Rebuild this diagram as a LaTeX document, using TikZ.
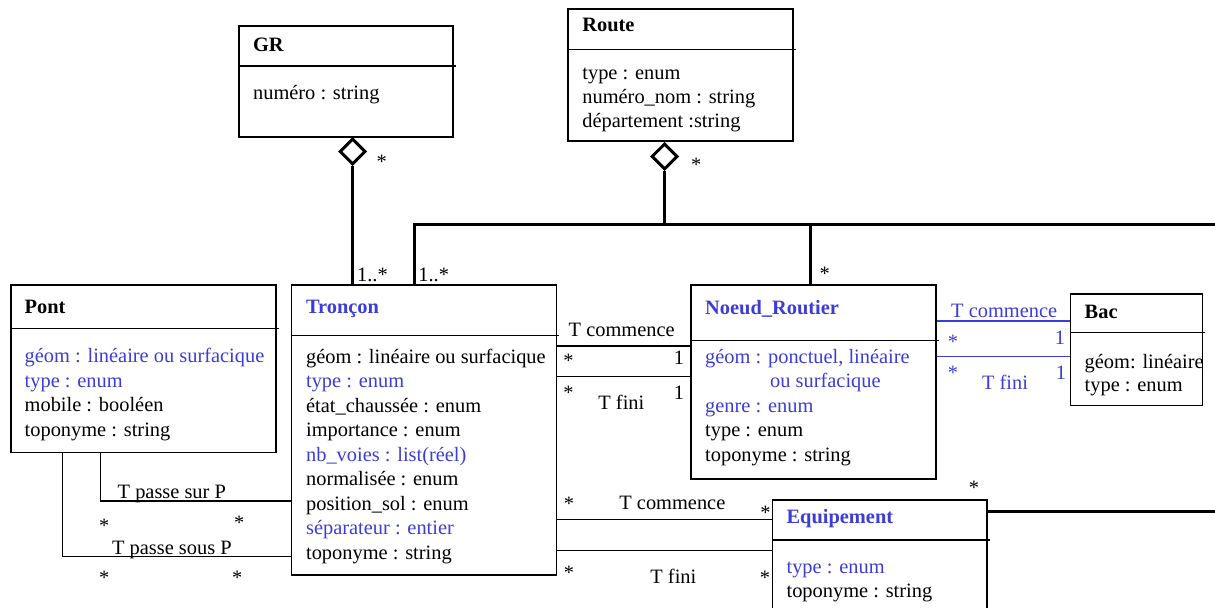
\documentclass[tikz,border=0pt]{standalone}
\usepackage{fontspec}
\setmainfont{Liberation Serif}
\usetikzlibrary{fit, shapes.geometric}
\definecolor{attrblue}{RGB}{60,60,215}

\begin{document}
\begin{tikzpicture}[
    x=0.5pt, y=-0.5pt,
    every node/.style={font=\fontsize{10.2}{12.25}\selectfont, inner sep=0pt},
    classbox/.style={draw, rectangle, line width=0.7pt, inner sep=0pt},
    title/.style={anchor=base west, font=\fontsize{10.2}{12.25}\selectfont\bfseries},
    attrs/.style={anchor=base west, align=left},
    lbl/.style={anchor=base west},
    mult/.style={anchor=base},
    aggr/.style={draw, diamond, fill=white, line width=1.5pt,
                 minimum width=13pt, minimum height=13pt, inner sep=0pt},
    assoc/.style={line width=0.7pt},
    aggline/.style={line width=1.5pt}
]
\useasboundingbox (0,0) rectangle (1215,608);
\clip (0,0) rectangle (1215,608);

% Class boxes
\node[classbox, fit={(239,26)(453,137)}] (GR) {};
\node[classbox, fit={(568,9)(793,141)}] (Route) {};
\node[classbox, fit={(11,285)(276,452.3)}] (Pont) {};
\node[classbox, fit={(291.7,285)(556.7,575)}] (Troncon) {};
\node[classbox, fit={(690.8,285)(936,479)}] (Noeud) {};
\node[classbox, fit={(1070.7,294)(1202.3,405.7)}] (Bac) {};
\node[classbox, fit={(772.6,500)(986.8,625)}] (Equip) {};

% Dividers
\draw[assoc] (GR.west |- 0,66) -- ([xshift=1pt]GR.east |- 0,66)
             (Route.west |- 0,49.3) -- ([xshift=1pt]Route.east |- 0,49.3)
             (Pont.west |- 0,328.3) -- ([xshift=1pt]Pont.east |- 0,328.3)
             (Troncon.west |- 0,335.7) -- ([xshift=1pt]Troncon.east |- 0,335.7)
             (Noeud.west |- 0,340.7) -- ([xshift=1pt]Noeud.east |- 0,340.7)
             (Bac.west |- 0,332.7) -- ([xshift=1pt]Bac.east |- 0,332.7)
             (Equip.west |- 0,540) -- ([xshift=1pt]Equip.east |- 0,540);

% Titles and attributes (attribute nodes sit on the baseline of their last line)
\node[title] (GRt) at (252.7,51.7) {GR};
\node[attrs] (GRa) at (252.7,100) {numéro : string};

\node[title] (Routet) at (582,31.7) {Route};
\node[attrs, font=\fontsize{10.2}{12}\selectfont] (Routea) at (582,128)
    {type : enum\\numéro\_nom : string\\département :string};

\node[title] (Pontt) at (24.3,313.3) {Pont};
\node[attrs] (Ponta) at (24.3,436.2)
    {\textcolor{attrblue}{géom : linéaire ou surfacique}\\
     \textcolor{attrblue}{type : enum}\\
     mobile : booléen\\toponyme : string};

\node[title, text=attrblue] (Troncont) at (305.7,313.3) {Tronçon};
\node[attrs] (Troncona) at (305.7,559.3)
    {géom : linéaire ou surfacique\\
     \textcolor{attrblue}{type : enum}\\
     état\_chaussée : enum\\importance : enum\\
     \textcolor{attrblue}{nb\_voies : list(réel)}\\
     normalisée : enum\\position\_sol : enum\\
     \textcolor{attrblue}{séparateur : entier}\\
     toponyme : string};

\node[title, text=attrblue] (Noeudt) at (704.8,315) {Noeud\_Routier};
\node[attrs] (Noeuda) at (704.8,461.3)
    {\textcolor{attrblue}{géom : ponctuel, linéaire}\\
     \hspace{32.5pt}\textcolor{attrblue}{ou surfacique}\\
     \textcolor{attrblue}{genre : enum}\\
     type : enum\\toponyme : string};

\node[title] (Bact) at (1084.3,318.3) {Bac};
\node[attrs, font=\fontsize{10.2}{11.7}\selectfont] (Baca) at (1084.3,391.7)
    {géom: linéaire\\type : enum};

\node[title, text=attrblue] (Equipt) at (786.2,523.3) {Equipement};
\node[attrs] (Equipa) at (786.2,597.8)
    {\textcolor{attrblue}{type : enum}\\toponyme : string};

% Aggregations
\node[aggr] (GRdia) at (352.7,151.5) {};
\node[aggr] (Routedia) at (664.5,156.5) {};
\coordinate (rightA) at (1215,225);
\coordinate (rightB) at (1215,511.7);

\draw[aggline] (GRdia.south) -- (Troncon.north -| GRdia.south);
\draw[aggline] (Troncon.north -| 414.3,0) |- (rightA);
\draw[aggline] (Routedia.south) -- (Routedia.south |- rightA);
\draw[aggline] (Noeud.north -| 810.4,0) -- (810.4,225);
\draw[aggline] (Equip.east |- rightB) -- (rightB);

\node[mult] (GRm) at (381.7,169) {*};
\node[lbl] (GRm2) at (356.7,281.7) {1..*};
\node[lbl] (Routem2) at (418,281.7) {1..*};
\node[mult] (Routem) at (696.3,172) {*};
\node[mult] (Noeudm) at (824.8,281) {*};
\node[mult] (Equipm) at (974,494.5) {*};

% Troncon -- Noeud_Routier
\draw[assoc] (Troncon.east |- 0,346) -- (Noeud.west |- 0,346)
             (Troncon.east |- 0,376.7) -- (Noeud.west |- 0,376.7);
\node[lbl] (TNc) at (568.3,336.7) {T commence};
\node[mult] (TNc1) at (568.5,367.5) {*};
\node[mult] (TNc2) at (679,365) {1};
\node[mult] (TNf1) at (568.5,399.5) {*};
\node[lbl] (TNf) at (598,410) {T fini};
\node[mult] (TNf2) at (679,400) {1};

% Noeud_Routier -- Bac
\draw[assoc, attrblue] (Noeud.east |- 0,321) -- (Bac.west |- 0,321)
                       (Noeud.east |- 0,356.7) -- (Bac.west |- 0,356.7);
\node[lbl, text=attrblue] (NBc) at (950.8,317.3) {T commence};
\node[mult, text=attrblue] (NBc1) at (953,349) {*};
\node[mult, text=attrblue] (NBc2) at (1060,345) {1};
\node[mult, text=attrblue] (NBf1) at (953,380) {*};
\node[lbl, text=attrblue] (NBf) at (981.7,390) {T fini};
\node[mult, text=attrblue] (NBf2) at (1061,380) {1};

% Troncon -- Equipement
\draw[assoc] (Troncon.east |- 0,519.5) -- (Equip.west |- 0,519.5)
             (Troncon.east |- 0,550.7) -- (Equip.west |- 0,550.7);
\node[mult] (TEc1) at (569,511) {*};
\node[lbl] (TEc) at (619,510) {T commence};
\node[mult] (TEc2) at (765.4,519.5) {*};
\node[mult] (TEf1) at (569,579.5) {*};
\node[lbl] (TEf) at (650,583) {T fini};
\node[mult] (TEf2) at (765,584.5) {*};

% Pont -- Troncon
\draw[assoc] (Pont.south -| 100.7,0) |- (Troncon.west |- 0,501)
             (Pont.south -| 62.7,0) |- (Troncon.west |- 0,556.7);
\node[lbl] (PTs) at (117.3,499) {T passe sur P};
\node[mult] (PTs1) at (104.3,532.7) {*};
\node[mult] (PTs2) at (239.3,529.4) {*};
\node[lbl] (PTu) at (111.7,555) {T passe sous P};
\node[mult] (PTu1) at (104.3,584.4) {*};
\node[mult] (PTu2) at (237.3,584.4) {*};

\end{tikzpicture}
\end{document}
